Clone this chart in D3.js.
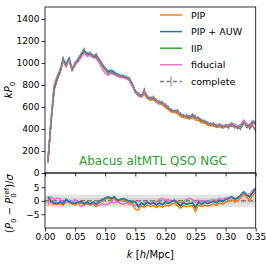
<!DOCTYPE html>
<html>
<head>
<meta charset="utf-8">
<script src="https://cdn.jsdelivr.net/npm/d3@7"></script>
<style>
  body { margin: 0; background: #fff; }
  svg { font-family: "DejaVu Sans", sans-serif; }
</style>
</head>
<body>
<div id="chart"></div>
<script>
// k bins
var kvals = [0.005,0.010,0.015,0.020,0.025,0.030,0.035,0.040,0.045,0.050,
             0.055,0.060,0.065,0.070,0.075,0.080,0.085,0.090,0.095,0.100,
             0.105,0.110,0.115,0.120,0.125,0.130,0.135,0.140,0.145,0.150,
             0.155,0.160,0.165,0.170,0.175,0.180,0.185,0.190,0.195,0.200,
             0.205,0.210,0.215,0.220,0.225,0.230,0.235,0.240,0.245,0.250,
             0.255,0.260,0.265,0.270,0.275,0.280,0.285,0.290,0.295,0.300,
             0.305,0.310,0.315,0.320,0.325,0.330,0.335,0.340,0.345,0.350];

// kP0 for each weighting
var complete = [103,450,770,860,930,1045,980,1040,950,1000,
                1040,1080,1125,1085,1095,1065,1080,1030,980,945,
                905,920,900,895,880,880,870,860,810,745,
                720,700,760,690,680,690,660,650,640,620,
                600,570,560,570,540,520,525,510,530,515,
                500,480,470,455,440,450,425,440,420,430,
                410,430,415,410,400,450,420,400,440,375];
var pipauw = [120,470,760,850,920,1020,990,1040,940,990,
              1030,1075,1110,1080,1080,1060,1065,1030,985,950,
              920,930,915,895,885,880,870,855,805,740,
              715,705,730,690,675,680,655,640,635,610,
              590,565,565,555,530,520,515,505,520,500,
              495,470,470,450,445,440,430,435,425,430,
              430,450,435,420,430,475,440,430,470,450];
var pip = [110,460,750,845,915,1010,975,1030,930,980,
           1020,1065,1100,1070,1070,1050,1055,1020,975,940,
           910,920,905,885,875,870,860,845,795,728,
           705,690,718,678,662,668,642,628,622,596,
           576,552,552,540,515,505,500,490,505,482,
           478,455,455,435,430,428,415,420,410,418,
           418,438,422,410,418,462,428,420,462,440];
var iip = pipauw.slice();
var fiducial = [95,480,800,880,945,1010,965,1025,940,985,
                1010,1050,1090,1060,1070,1050,1040,1000,950,905,
                890,905,895,880,870,865,860,840,790,735,
                700,690,735,690,680,690,655,640,640,615,
                595,565,565,560,535,520,520,515,530,505,
                500,478,470,455,450,445,432,440,430,435,
                438,452,440,425,435,478,445,440,478,460];

// (P0 - P0ref)/sigma
var dev_pipauw = [1.5,-0.3,-0.8,-1.0,-0.5,-1.2,0.5,-0.3,-0.8,-1.0,
                  -0.5,-0.3,-1.2,-0.4,-1.2,-0.5,-1.3,-0.2,0.4,1.0,
                  1.5,0.8,1.5,0.2,0.5,0.8,0.3,-0.2,-0.5,-0.3,
                  -2.2,-0.8,-1.5,-0.5,-1.2,-0.8,-1.5,-0.8,-1.4,-0.5,
                  -1.0,-0.3,0.2,-0.8,-1.8,-0.8,-1.2,-1.0,-0.8,-2.5,
                  -0.4,-1.2,-0.5,-1.0,-0.6,-0.2,-0.8,0.2,-0.3,0.5,
                  0.8,1.5,0.6,1.0,2.0,3.3,2.0,1.5,3.0,4.6];
var dev_pip = [1.0,-0.8,-1.3,-1.4,-1.0,-1.6,0.0,-0.8,-1.2,-1.5,
               -1.0,-0.8,-1.6,-0.9,-1.6,-1.0,-1.7,-0.7,-0.1,0.5,
               1.0,0.3,0.9,-0.3,0.0,0.2,-0.3,-0.8,-1.2,-3.2,
               -3.5,-1.8,-2.5,-1.5,-2.2,-1.8,-2.5,-1.8,-2.4,-1.5,
               -2.0,-1.3,-0.8,-1.8,-2.8,-1.8,-2.2,-2.0,-1.8,-4.0,
               -1.5,-2.2,-1.5,-2.0,-1.6,-1.2,-1.8,-0.8,-1.3,-0.5,
               -0.2,0.5,-0.4,0.0,1.0,2.5,1.2,0.2,2.0,3.3];
var dev_iip = dev_pipauw.slice();
var dev_fiducial = [-1.6,1.5,0.5,1.0,0.8,-1.5,-0.5,0.2,-0.2,0.5,
                    -1.0,-2.2,-1.0,-1.4,-1.0,-1.3,-2.2,-1.5,-1.0,-1.5,
                    -1.2,-0.5,-0.8,-0.3,-1.0,-1.3,-0.8,-1.5,-1.2,-1.8,
                    -1.5,-1.0,-0.8,-0.5,-1.0,-0.6,-0.3,0.6,0.9,0.2,
                    0.5,-0.2,0.0,-0.3,-0.8,-0.2,0.5,0.9,0.3,-0.5,
                    0.2,-0.2,0.0,-0.4,0.2,0.5,0.2,1.0,0.6,1.0,
                    1.2,1.5,0.8,1.2,2.0,3.3,2.5,2.5,4.0,4.8];

var band_err = 22;     // half width of PIP+AUW shaded band (kP0 units)
var complete_err = 14; // error bar half length

var xticks = [0.00,0.05,0.10,0.15,0.20,0.25,0.30,0.35];
var yticks_top = [0,200,400,600,800,1000,1200,1400];
var yticks_bot = [-5,0,5];

var names = ["PIP","PIP + AUW","IIP","fiducial","complete"];
var colors = ["#ff7f0e","#1f77b4","#2ca02c","#e377c2","#7f7f7f"];

var width = 266, height = 266;
var pleft = 45, pright = 255.7, ptop = 7, psplit = 173, pbottom = 228;

var svg = d3.select("#chart").append("svg")
  .attr("width", width)
  .attr("height", height);

var x = d3.scaleLinear().domain([0, 0.35]).range([pleft, pright]);
var y = d3.scaleLinear().domain([0, 1509]).range([psplit, ptop]);
var y2 = d3.scaleLinear().domain([-10.1, 10.3]).range([pbottom, psplit]);

var line = d3.line()
  .x(function(d, i) { return x(kvals[i]); })
  .y(function(d) { return y(d); });
var line2 = d3.line()
  .x(function(d, i) { return x(kvals[i]); })
  .y(function(d) { return y2(d); });

var defs = svg.append("defs");
defs.append("clipPath").attr("id", "clipTop")
  .append("rect").attr("x", pleft).attr("y", ptop).attr("width", pright - pleft).attr("height", psplit - ptop);
defs.append("clipPath").attr("id", "clipBot")
  .append("rect").attr("x", pleft).attr("y", psplit).attr("width", pright - pleft).attr("height", pbottom - psplit);

// ---- top panel
var gt = svg.append("g").attr("clip-path", "url(#clipTop)");

gt.append("path")
  .datum(pipauw)
  .attr("d", d3.area()
    .x(function(d, i) { return x(kvals[i]); })
    .y0(function(d) { return y(d - band_err); })
    .y1(function(d) { return y(d + band_err); }))
  .style("fill", "#1f77b4")
  .style("opacity", 0.25);

var topSeries = [iip, pip, pipauw, fiducial];
var topColors = [colors[2], colors[0], colors[1], colors[3]];
topSeries.forEach(function(s, j) {
  gt.append("path")
    .datum(s)
    .attr("d", line)
    .style("fill", "none")
    .style("stroke", topColors[j])
    .style("stroke-width", 1.5);
});

gt.selectAll("line.err")
  .data(complete)
  .enter().append("line")
  .attr("class", "err")
  .attr("x1", function(d, i) { return x(kvals[i]); })
  .attr("x2", function(d, i) { return x(kvals[i]); })
  .attr("y1", function(d) { return y(d - complete_err); })
  .attr("y2", function(d) { return y(d + complete_err); })
  .style("stroke", colors[4])
  .style("stroke-width", 1);

gt.append("path")
  .datum(complete)
  .attr("d", line)
  .style("fill", "none")
  .style("stroke", colors[4])
  .style("stroke-width", 1.5)
  .style("stroke-dasharray", "5,1.5");

// ---- bottom panel
var gb = svg.append("g").attr("clip-path", "url(#clipBot)");

gb.append("rect")
  .attr("x", pleft).attr("width", pright - pleft)
  .attr("y", y2(2.3)).attr("height", y2(-2.3) - y2(2.3))
  .style("fill", "#d9d9d9").style("opacity", 0.7);
gb.append("rect")
  .attr("x", pleft).attr("width", pright - pleft)
  .attr("y", y2(1)).attr("height", y2(-1) - y2(1))
  .style("fill", "#c8c8c8").style("opacity", 0.6);
gb.append("line")
  .attr("x1", pleft).attr("x2", pright)
  .attr("y1", y2(0)).attr("y2", y2(0))
  .style("stroke", colors[4])
  .style("stroke-width", 1.5)
  .style("stroke-dasharray", "5,2");

var botSeries = [dev_iip, dev_fiducial, dev_pip, dev_pipauw];
var botColors = [colors[2], colors[3], colors[0], colors[1]];
botSeries.forEach(function(s, j) {
  gb.append("path")
    .datum(s)
    .attr("d", line2)
    .style("fill", "none")
    .style("stroke", botColors[j])
    .style("stroke-width", 1.5);
});

// ---- axes
function styleAxis(g) {
  g.selectAll("path.domain").remove();
  g.selectAll(".tick line").style("stroke", "#000").style("stroke-width", 0.8);
  g.selectAll(".tick text").style("font-size", "9px").style("fill", "#000")
    .style("font-family", "DejaVu Sans");
}

svg.append("g")
  .attr("transform", "translate(" + pleft + ",0)")
  .call(d3.axisLeft(y).tickValues(yticks_top).tickFormat(d3.format("d")).tickSize(3.5).tickPadding(2))
  .call(styleAxis);

svg.append("g")
  .attr("transform", "translate(0," + psplit + ")")
  .call(d3.axisBottom(x).tickValues(xticks).tickFormat("").tickSize(3.5))
  .call(styleAxis);

svg.append("g")
  .attr("transform", "translate(" + pleft + ",0)")
  .call(d3.axisLeft(y2).tickValues(yticks_bot).tickFormat(function(d) { return d < 0 ? "\u2212" + Math.abs(d) : d; }).tickSize(3.5).tickPadding(2))
  .call(styleAxis);

svg.append("g")
  .attr("transform", "translate(0," + pbottom + ")")
  .call(d3.axisBottom(x).tickValues(xticks).tickFormat(d3.format(".2f")).tickSize(3.5).tickPadding(2))
  .call(styleAxis);

// frames
[[ptop, psplit], [psplit, pbottom]].forEach(function(p) {
  svg.append("rect")
    .attr("x", pleft).attr("y", p[0])
    .attr("width", pright - pleft).attr("height", p[1] - p[0])
    .style("fill", "none").style("stroke", "#000").style("stroke-width", 0.8);
});

// labels
var yl = svg.append("text")
  .attr("transform", "translate(12," + ((ptop + psplit) / 2) + ") rotate(-90)")
  .attr("text-anchor", "middle")
  .style("font-size", "10px");
yl.append("tspan").style("font-style", "italic").text("kP");
yl.append("tspan").attr("dy", 2.5).style("font-size", "7px").text("0");

var yl2 = svg.append("text")
  .attr("transform", "translate(13," + ((psplit + pbottom) / 2 + 3) + ") rotate(-90)")
  .attr("text-anchor", "middle")
  .style("font-size", "10px");
yl2.append("tspan").text("(");
yl2.append("tspan").style("font-style", "italic").text("P");
yl2.append("tspan").attr("dy", 2.5).style("font-size", "7px").text("0");
yl2.append("tspan").attr("dy", -2.5).text(" \u2212 ");
yl2.append("tspan").style("font-style", "italic").text("P");
yl2.append("tspan").attr("dy", 2.5).style("font-size", "7px").text("0");
yl2.append("tspan").attr("dx", -4).attr("dy", -7).style("font-size", "7px").text("ref");
yl2.append("tspan").attr("dy", 4.5).text(")/");
yl2.append("tspan").style("font-style", "italic").text("\u03c3");

var xl = svg.append("text")
  .attr("x", (pleft + pright) / 2)
  .attr("y", 258)
  .attr("text-anchor", "middle")
  .style("font-size", "10px");
xl.append("tspan").style("font-style", "italic").text("k");
xl.append("tspan").text(" [");
xl.append("tspan").style("font-style", "italic").text("h");
xl.append("tspan").text("/Mpc]");

svg.append("text")
  .attr("x", 153)
  .attr("y", 165)
  .attr("text-anchor", "middle")
  .style("font-size", "12px")
  .style("fill", colors[2])
  .text("Abacus altMTL QSO NGC");

// legend
var leg = svg.append("g").attr("transform", "translate(160,15)");
names.forEach(function(n, i) {
  var row = leg.append("g").attr("transform", "translate(0," + (i * 16.6) + ")");
  if (i < 4) {
    row.append("line").attr("x1", 0).attr("x2", 22).attr("y1", 0).attr("y2", 0)
      .style("stroke", colors[i]).style("stroke-width", 1.5);
  } else {
    row.append("line").attr("x1", 0).attr("x2", 22).attr("y1", 0).attr("y2", 0)
      .style("stroke", colors[i]).style("stroke-width", 1.5).style("stroke-dasharray", "4,2.5");
    row.append("line").attr("x1", 11).attr("x2", 11).attr("y1", -5).attr("y2", 5)
      .style("stroke", colors[i]).style("stroke-width", 1);
  }
  row.append("text").attr("x", 31).attr("y", 3.5)
    .style("font-size", "9.5px")
    .text(n);
});
</script>
</body>
</html>
